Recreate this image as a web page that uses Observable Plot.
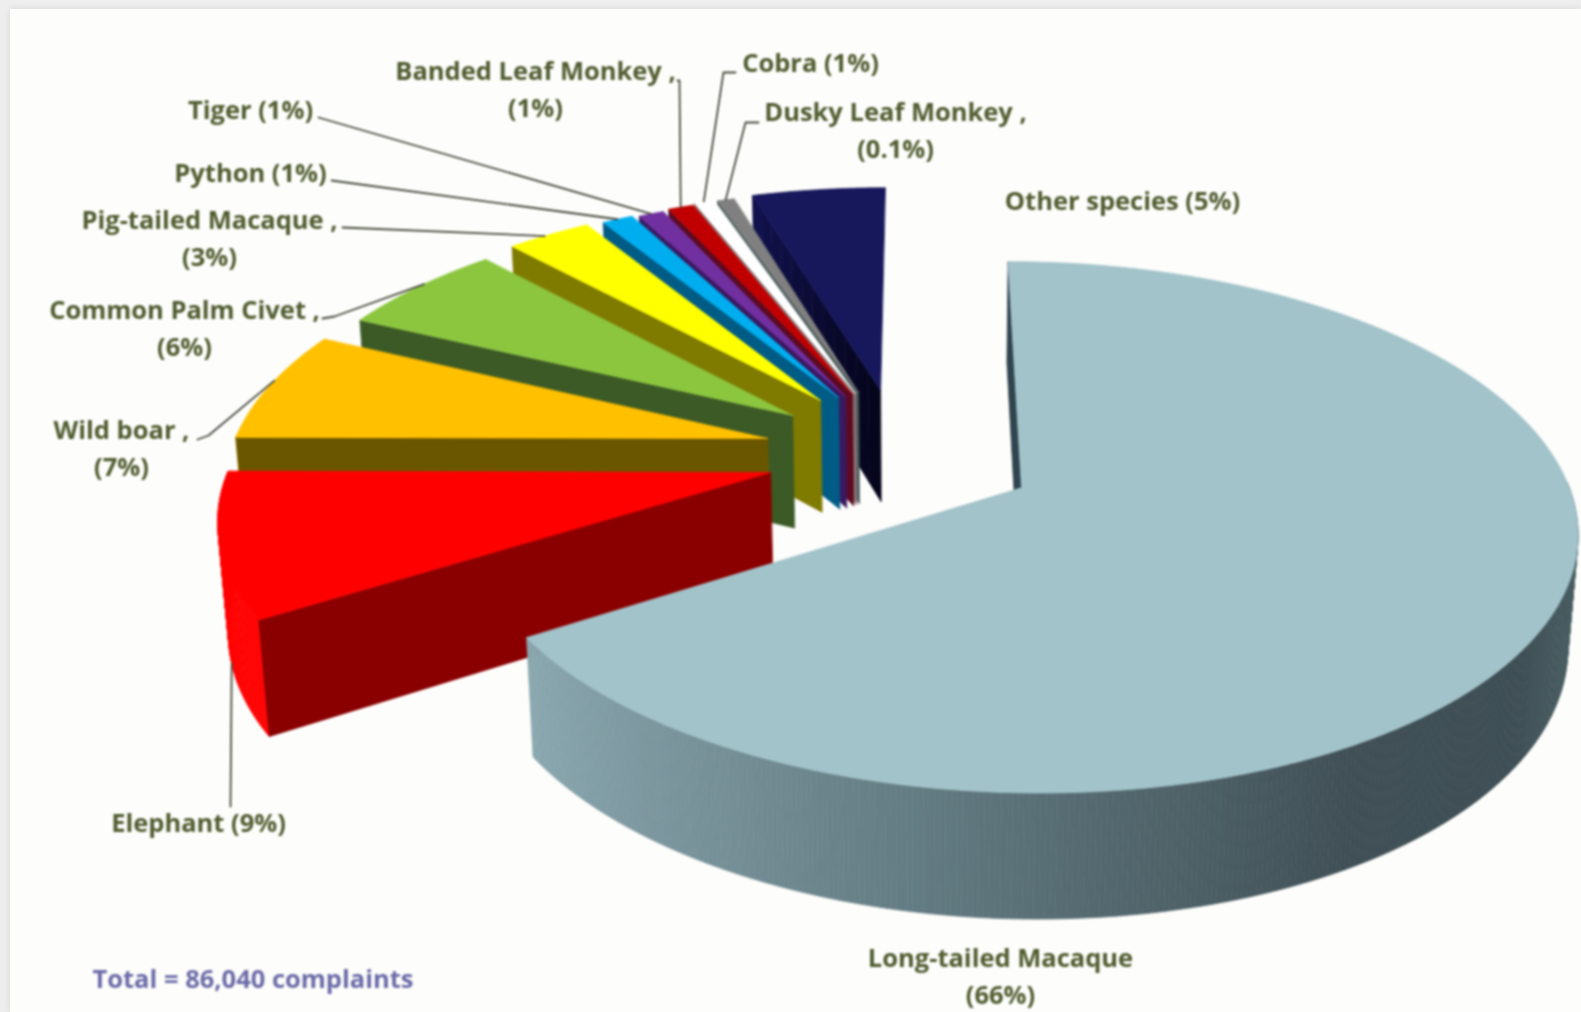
<!DOCTYPE html>
<html>
<head>
<meta charset="utf-8">
<script src="https://cdn.jsdelivr.net/npm/d3@7"></script>
<script src="https://cdn.jsdelivr.net/npm/@observablehq/plot@0.6"></script>
<style>
html,body{margin:0;padding:0;background:#eeeeee;overflow:hidden}
#panel{position:absolute;left:10px;top:9px;right:0;bottom:0;background:#fdfdfb;box-shadow:0 0 7px rgba(0,0,0,.10)}
#chart{position:absolute;left:0;top:0}
#chart svg{display:block;filter:blur(.9px)}
</style>
</head>
<body>
<div id="panel"></div>
<div id="chart"></div>
<script>
// ---- data ----
const categories = ["Long-tailed Macaque","Elephant","Wild boar","Common Palm Civet","Pig-tailed Macaque","Python","Tiger","Banded Leaf Monkey","Cobra","Dusky Leaf Monkey","Other species"];
const printedPercent = ["66%","9%","7%","6%","3%","1%","1%","1%","1%","0.1%","5%"];
// share of the circle each wedge occupies in the drawing
const drawnShare = [66,9,7,6,3,1.1,0.9,0.9,0.7,0.6,4.7];
const totalNote = "Total = 86,040 complaints";

// ---- styles ----
const topColors  = ["#a2c3ca","#ff0000","#ffc000","#8cc63f","#ffff00","#00aeef","#7030a0","#c00000","#ffffff","#808080","#17175c"];
const wallRimColors = ["#2f444e","#8a0000","#6b5600","#3c5a26","#7f7a00","#005c85","#3a1860","#5c0a22","#8f7676","#4a5a5a","#12124f"];
const wallTipColors = ["#2f444e","#8a0000","#6b5600","#3c5a26","#7f7a00","#005c85","#3a1860","#5c0a22","#8f7676","#4a5a5a","#04041a"];
const macaqueRimAngles = [237.6,210,180,150,125,100];
const macaqueRimColors = ["#8aa7af","#758f97","#586f75","#3f4f55","#3d4e54","#4e6468"];
const macaqueRim = d3.scaleLinear().domain(macaqueRimAngles).range(macaqueRimColors).clamp(true);

// ---- layout ----
const W = 1581, H = 1012;
const persp = 0.15, sink = 0.016, vanishX = 918, cy = 488, radX = 548, radY = 260, depth = 118, pivot = 103;
// screen position of every wedge's point after the explosion, its radial reach and its thickness
const wedgeTips = [[1021,487],[770,472],[767,438],[792,415],[820,400],[838,397],[845,396],[852,394],[855,393],[858,392],[880,390]];
const wedgeReach = [1,1,1,.985,.99,.99,.985,.99,1,.99,1];
const wedgeDepth = [.965,.95,1,1,1,1,1,1,1,1,1];
const project = (u,v,h) => { const w = 1+persp*v+sink*h; return [vanishX+(pivot+radX*u)/w, cy+(-radY*v+depth*h)/w]; };
const groundOf = ([sx,sy]) => { const t=(cy-sy)/radY, v=t/(1-persp*t), w=1+persp*v; return [((sx-vanishX)*w-pivot)/radX, v]; };

const arcs = d3.pie().sort(null).value(d=>d)(drawnShare);
const faces = [];
const addFace = (id,color,pts) => pts.forEach(p=>faces.push({id,color,x:p[0],y:p[1]}));
const radial = (i,a,h,t) => { const [du,dv]=groundOf(wedgeTips[i]), r=wedgeReach[i]*t; return project(du+r*Math.sin(a),dv+r*Math.cos(a),h*wedgeDepth[i]); };
const rimPoint = (i,a,h) => radial(i,a,h,1);

// painter's order: back wedge first, long-tailed macaque last
[10,9,8,7,6,5,4,3,2,1,0].forEach(i=>{
  const {startAngle:a0,endAngle:a1}=arcs[i];
  const n=Math.max(2,Math.ceil((a1-a0)/(Math.PI/360)));
  const angle=k=>a0+(a1-a0)*k/n;
  for(let k=0;k<n;k++){
    const mid=angle(k+.5);
    if(Math.cos(mid)>0.02) continue;           // rim that faces away is never seen
    const c=i===0?macaqueRim(mid*180/Math.PI):topColors[i];
    addFace(`rim${i}-${k}`,c,[rimPoint(i,angle(k),0),rimPoint(i,angle(k+1),0),rimPoint(i,angle(k+1),1),rimPoint(i,angle(k),1)]);
  }
  const shade=d3.interpolateRgb(wallTipColors[i],wallRimColors[i]);
  const steps=i===10?12:1;
  for(let s=0;s<steps;s++){
    const t0=s/steps,t1=(s+1)/steps;
    addFace(`wall${i}-${s}`,d3.color(shade((t0+t1)/2)).formatHex(),[radial(i,a0,0,t0),radial(i,a0,0,t1),radial(i,a0,1,t1),radial(i,a0,1,t0)]);
  }
  const top=[radial(i,a0,0,0)];
  for(let k=0;k<=n;k++) top.push(rimPoint(i,angle(k),0));
  addFace(`top${i}`,topColors[i],top);
});

// labels
const labelAt = [[1000,973],[198,820],[121,445],[184,325],[209,235],[250,170],[250,107],[535,86],[810,60],[895,127],[1122,198]];
const twoLine = new Set([0,2,3,4,7,9]);
const labelRows = categories.map((c,i)=>({
  text: twoLine.has(i) ? (i===0 ? `${c}\n(${printedPercent[i]})` : `${c} ,\n(${printedPercent[i]})`) : `${c} (${printedPercent[i]})`,
  x:labelAt[i][0], y:labelAt[i][1]
}));

// leader lines: a start by the label, optional elbow, then a point on the wedge's rim
const leaderStart = {1:[[230,806]],2:[[197,439],[208,435]],3:[[322,318],[334,316]],4:[[342,227]],5:[[331,180]],6:[[318,117]],7:[[677,80],[679,80]],8:[[735,72],[723,72]],9:[[758,122],[745,122]]};
const leaderEnd = {1:[.47,1],2:[.55,0],3:[.55,0],4:[.45,0],5:[.5,0],6:[.5,0],7:[.5,0],8:[.5,0],9:[.5,0]};
const leaders=[];
Object.keys(leaderStart).forEach(k=>{
  const i=+k, [f,h]=leaderEnd[i], a=arcs[i].startAngle+(arcs[i].endAngle-arcs[i].startAngle)*f;
  [...leaderStart[i],rimPoint(i,a,h)].forEach(p=>leaders.push({id:i,x:p[0],y:p[1]}));
});

const chart = Plot.plot({
  width:W,height:H,margin:0,
  style:{background:"transparent"},
  x:{domain:[0,W],range:[0,W],axis:null},
  y:{domain:[0,H],range:[0,H],axis:null},
  color:{type:"identity"},
  marks:[
    Plot.line(faces,{x:"x",y:"y",z:"id",fill:"color",stroke:"color",strokeWidth:.7,curve:"linear-closed"}),
    Plot.line(leaders,{x:"x",y:"y",z:"id",stroke:"#474c40",strokeWidth:1.8}),
    Plot.text(labelRows,{x:"x",y:"y",text:"text",fill:"#505c30",fontFamily:"Open Sans",fontWeight:700,fontSize:25.5,lineHeight:1.45,lineAnchor:"middle",textAnchor:"middle"}),
    Plot.text([totalNote],{x:[92],y:[979],text:d=>d,fill:"#6b6ba8",fontFamily:"Open Sans",fontWeight:700,fontSize:25.5,textAnchor:"start",lineAnchor:"middle"})
  ]
});
document.getElementById("chart").append(chart);
</script>
</body>
</html>
